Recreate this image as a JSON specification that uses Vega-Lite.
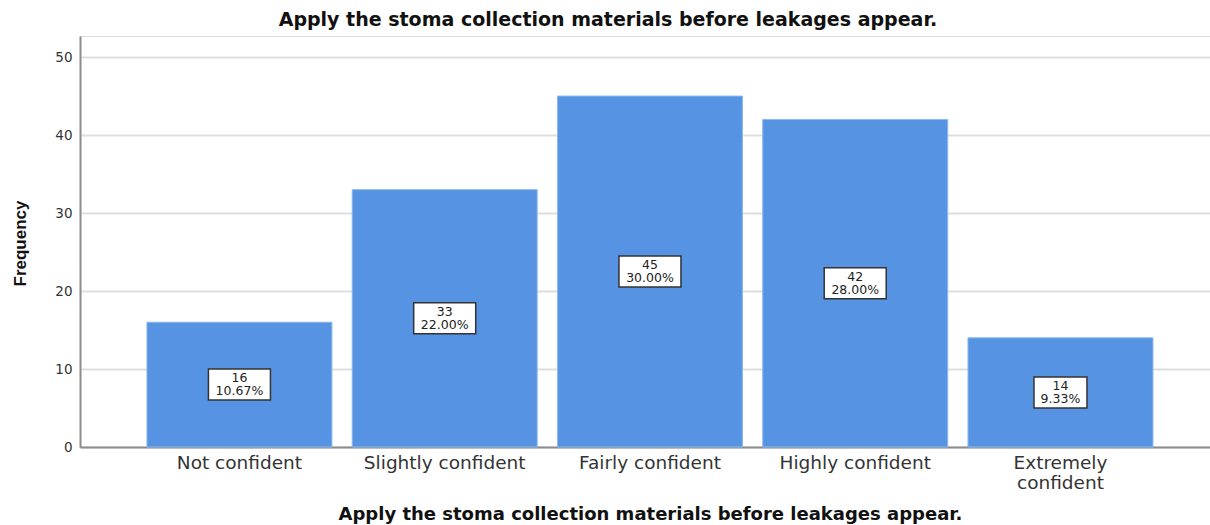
{
  "$schema": "https://vega.github.io/schema/vega-lite/v6.json",
  "autosize": "none",
  "width": 1130,
  "height": 411,
  "padding": {"left": 80, "top": 36, "right": 0, "bottom": 78},
  "background": "white",
  "title": {
    "text": "Apply the stoma collection materials before leakages appear.",
    "font": "DejaVu Sans",
    "fontSize": 19,
    "fontWeight": "bold",
    "color": "#111",
    "anchor": "middle",
    "dx": -37,
    "offset": 6
  },
  "data": {
    "values": [
      {"level": "Not confident", "count": 16, "share": 0.1067},
      {"level": "Slightly confident", "count": 33, "share": 0.22},
      {"level": "Fairly confident", "count": 45, "share": 0.30},
      {"level": "Highly confident", "count": 42, "share": 0.28},
      {"level": "Extremely confident", "count": 14, "share": 0.0933}
    ]
  },
  "encoding": {
    "x": {
      "field": "level",
      "type": "nominal",
      "sort": null,
      "scale": {"paddingInner": 0.0987, "paddingOuter": 0.302, "align": 0.54},
      "axis": {
        "title": "Apply the stoma collection materials before leakages appear.",
        "titleFont": "DejaVu Sans",
        "titleFontSize": 18,
        "titleFontWeight": "bold",
        "titleColor": "#111",
        "titleX": 570,
        "titleY": 67,
        "titleAlign": "center",
        "titleBaseline": "middle",
        "labelAngle": 0,
        "labelFont": "DejaVu Sans",
        "labelFontSize": 18.5,
        "labelColor": "#333",
        "labelPadding": 6,
        "labelLineHeight": 20,
        "labelExpr": "datum.label == 'Extremely confident' ? ['Extremely', 'confident'] : datum.label",
        "ticks": false,
        "domainColor": "#8c8c8c",
        "domainWidth": 2,
        "grid": false
      }
    }
  },
  "layer": [
    {
      "mark": {"type": "bar", "color": "#5694e3", "stroke": "#8cb8ee", "strokeWidth": 1},
      "encoding": {
        "y": {
          "field": "count",
          "type": "quantitative",
          "scale": {"domain": [0, 52.7], "nice": false},
          "axis": {
            "title": "Frequency",
            "titleFont": "Liberation Sans",
            "titleFontSize": 17,
            "titleFontWeight": "bold",
            "titleColor": "#111",
            "titleX": -60,
            "titleY": 207,
            "titleAlign": "center",
            "titleBaseline": "middle",
            "values": [0, 10, 20, 30, 40, 50],
            "labelFont": "DejaVu Sans",
            "labelFontSize": 13.5,
            "labelColor": "#333",
            "labelPadding": 8,
            "ticks": false,
            "domainColor": "#8c8c8c",
            "domainWidth": 2,
            "gridColor": "#dedede",
            "gridWidth": 2
          }
        }
      }
    },
    {
      "encoding": {
        "y": {
          "field": "count",
          "type": "quantitative",
          "scale": {"domain": [0, 105.4], "nice": false},
          "axis": null
        }
      },
      "layer": [
        {
          "mark": {"type": "point", "filled": true, "fill": "white", "opacity": 1, "stroke": "#333", "strokeWidth": 1.5},
          "encoding": {
            "shape": {
              "condition": {"test": "datum.share < 0.1", "value": "M-1,-0.585H1V0.585H-1Z"},
              "value": "M-1,-0.5H1V0.5H-1Z"
            },
            "size": {
              "condition": {"test": "datum.share < 0.1", "value": 2809},
              "value": 3844
            }
          }
        },
        {
          "mark": {"type": "text", "font": "DejaVu Sans", "fontSize": 12.5, "color": "#222", "baseline": "middle", "dy": -6.5},
          "encoding": {"text": {"field": "count", "type": "quantitative"}}
        },
        {
          "mark": {"type": "text", "font": "DejaVu Sans", "fontSize": 12.5, "color": "#222", "baseline": "middle", "dy": 6.5},
          "encoding": {"text": {"field": "share", "type": "quantitative", "format": ".2%"}}
        }
      ]
    }
  ],
  "resolve": {"scale": {"y": "independent"}}
}
